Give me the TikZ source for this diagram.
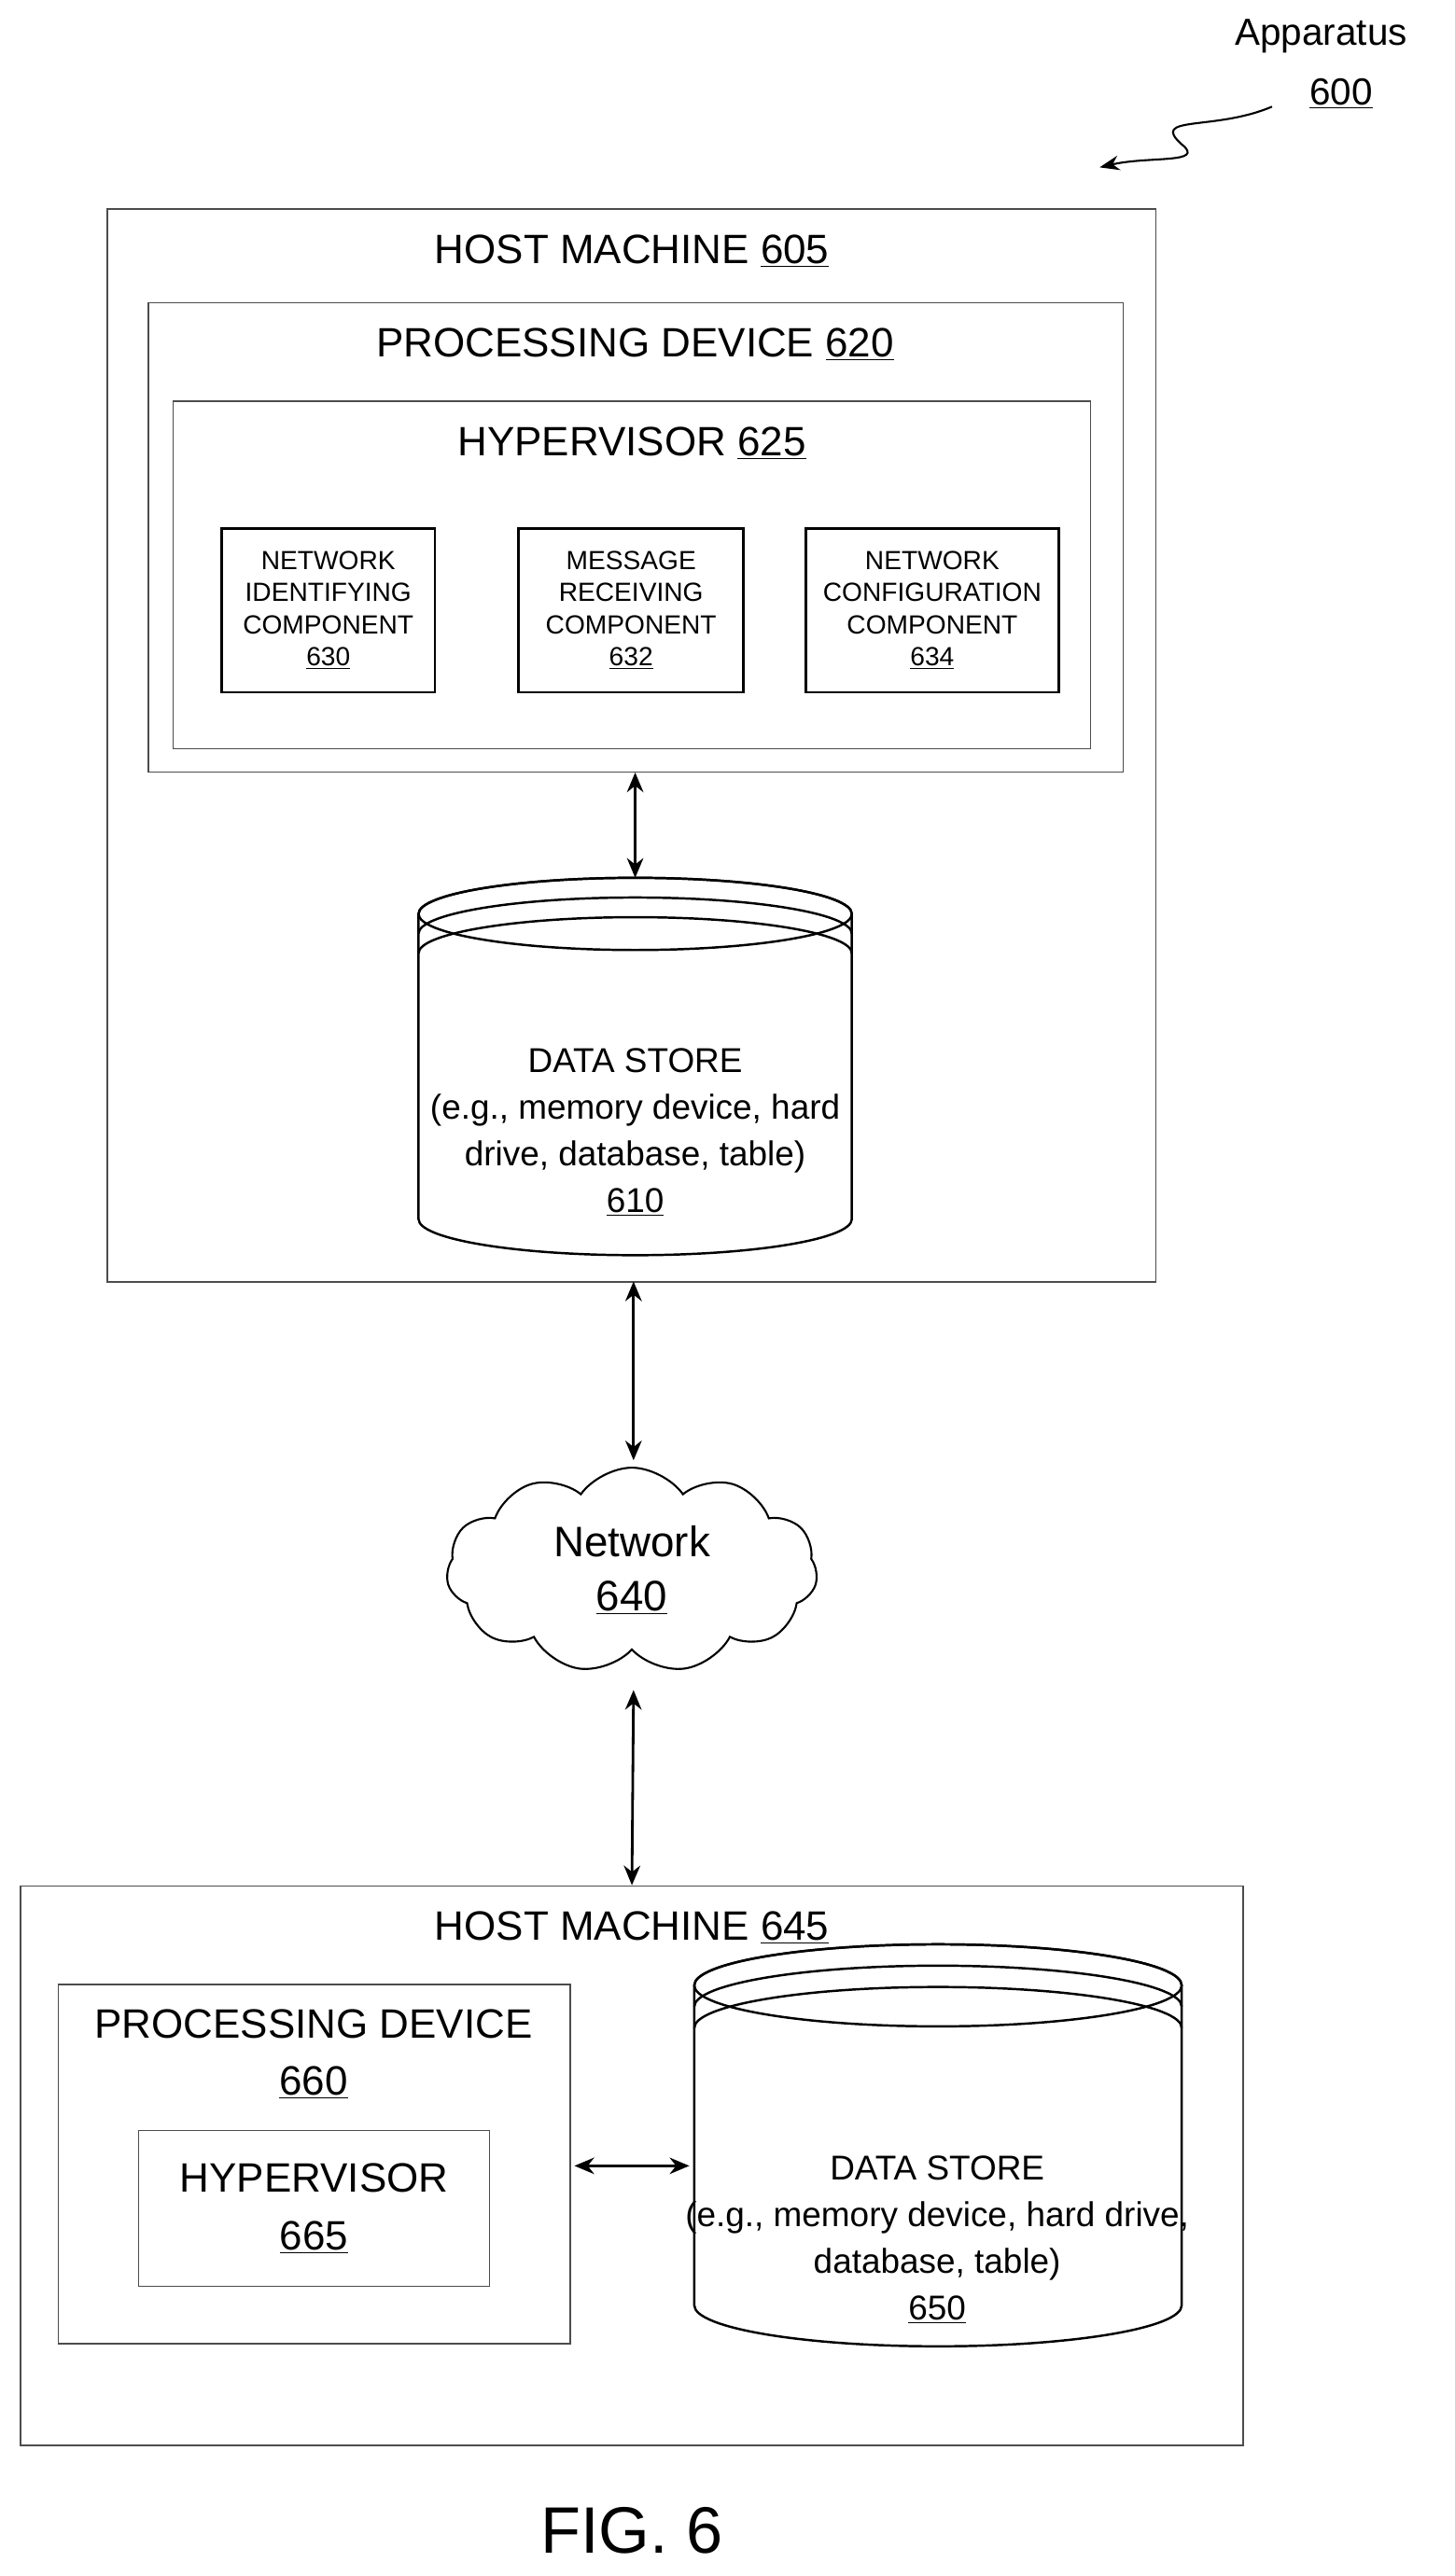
\documentclass[tikz,border=0pt]{standalone}
\usepackage{fontspec}
\setmainfont{Liberation Sans}
\usetikzlibrary{shapes.symbols,arrows.meta,decorations.pathmorphing}
\begin{document}
\begin{tikzpicture}[x=1pt,y=-1pt,
  box/.style={draw=black!70,line width=0.8pt},
  comp/.style={draw,line width=1.4pt,minimum width=#1,minimum height=100,align=center,font=\fontsize{16}{19.5}\selectfont,inner sep=1pt},
  ttl/.style={font=\fontsize{25}{30}\selectfont,align=center},
  dbl/.style={{Stealth[length=12pt,width=10pt]}-{Stealth[length=12pt,width=10pt]},line width=1.6pt},
  cyl/.style={line width=1.4pt}]
\useasboundingbox (0,0) rectangle (886,1570);
% apparatus
\node[ttl,font=\fontsize{23}{27}\selectfont] (app) at (805,22) {Apparatus};
\node[ttl,font=\fontsize{23}{27}\selectfont] (app2) at (817,57) {\underline{600}};
\coordinate (sqs) at (775,65);
\coordinate (sqe) at (670,102);
\draw[line width=1.2pt,-{Stealth[length=12pt,width=9pt]}] (sqs) .. controls (740,80) and (700,70) .. (720,88) .. controls (735,100) and (700,95) .. (sqe);
% host 605
\node[box,minimum width=639,minimum height=654,anchor=north west] (h605) at (65,127) {};
\node[ttl] at (385,153) {HOST MACHINE \underline{605}};
\node[box,minimum width=594,minimum height=286,anchor=north west] (p620) at (90,184) {};
\node[ttl] at (387,210) {PROCESSING DEVICE \underline{620}};
\node[box,minimum width=559,minimum height=212,anchor=north west] (hv625) at (105,244) {};
\node[ttl] at (385,270) {HYPERVISOR \underline{625}};
\node[comp=130] (c630) at (200,372) {NETWORK\\IDENTIFYING\\COMPONENT\\\underline{630}};
\node[comp=137] (c632) at (384.5,372) {MESSAGE\\RECEIVING\\COMPONENT\\\underline{632}};
\node[comp=154] (c634) at (568,372) {NETWORK\\CONFIGURATION\\COMPONENT\\\underline{634}};
% cylinder 610
\draw[cyl,fill=white] (255,557) arc[start angle=180,end angle=360,x radius=132,y radius=22] -- (519,743) arc[start angle=0,end angle=180,x radius=132,y radius=22] -- cycle;
\draw[cyl] (387,557) ellipse[x radius=132,y radius=22];
\draw[cyl] (255,569) arc[start angle=180,end angle=360,x radius=132,y radius=22];
\draw[cyl] (255,581) arc[start angle=180,end angle=360,x radius=132,y radius=22];
\coordinate (d610top) at (387,535);
\node[font=\fontsize{21}{28.5}\selectfont,align=center] (d610) at (387,690) {DATA STORE\\(e.g., memory device, hard\\drive, database, table)\\\underline{610}};
\draw[dbl] (p620.south -| d610top) -- (d610top);
% network
\node[cloud,draw,line width=1.2pt,cloud puffs=11,cloud puff arc=110,aspect=1.8,minimum width=226,minimum height=125,align=center,font=\fontsize{26}{33}\selectfont] (net) at (385,957) {Network\\\underline{640}};
\coordinate (hb) at (386,781);
\draw[dbl] (hb) -- (386,890);
% host 645
\node[box,minimum width=745,minimum height=341,anchor=north west] (h645) at (12,1149) {};
\draw[dbl] (386,1030) -- (h645.north -| net);
\node[ttl] at (385,1175) {HOST MACHINE \underline{645}};
\node[box,minimum width=312,minimum height=219,anchor=north west] (p660) at (35,1209) {};
\node[ttl,font=\fontsize{25}{35}\selectfont] at (191,1252) {PROCESSING DEVICE\\\underline{660}};
\node[box,minimum width=214,minimum height=95,anchor=north west,ttl,font=\fontsize{25}{35}\selectfont] (hv665) at (84,1298) {HYPERVISOR\\\underline{665}};
% cylinder 650
\draw[cyl,fill=white] (423,1210) arc[start angle=180,end angle=360,x radius=148.5,y radius=25] -- (720,1405) arc[start angle=0,end angle=180,x radius=148.5,y radius=25] -- cycle;
\draw[cyl] (571.5,1210) ellipse[x radius=148.5,y radius=25];
\draw[cyl] (423,1223) arc[start angle=180,end angle=360,x radius=148.5,y radius=25];
\draw[cyl] (423,1236) arc[start angle=180,end angle=360,x radius=148.5,y radius=25];
\coordinate (d650l) at (420,1320);
\node[font=\fontsize{21}{28.5}\selectfont,align=center] (d650) at (571,1365) {DATA STORE\\(e.g., memory device, hard drive,\\database, table)\\\underline{650}};
\draw[dbl] (350,1320) -- (d650l);
\node[font=\fontsize{40}{48}\selectfont] (fig) at (385,1542) {FIG. 6};
\end{tikzpicture}
\end{document}
